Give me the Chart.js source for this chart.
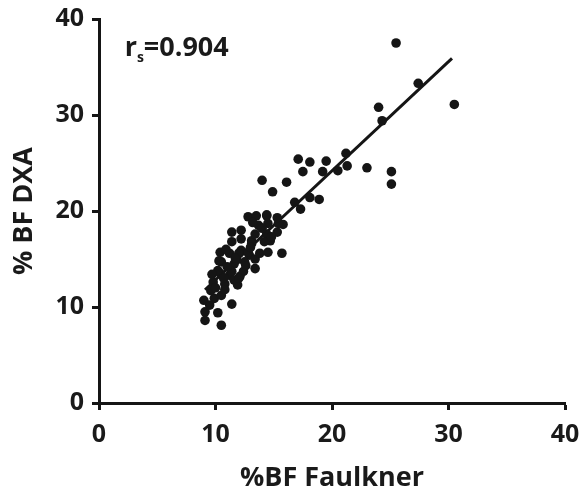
<!DOCTYPE html>
<html>
<head>
<meta charset="utf-8">
<script src="https://cdn.jsdelivr.net/npm/chart.js@4"></script>
<style>
html,body{margin:0;padding:0;background:#fff;}
#wrap{width:579px;height:495px;}
</style>
</head>
<body>
<div id="wrap"><canvas id="c" width="579" height="495"></canvas></div>
<script>
// x = %BF Faulkner, y = % BF DXA
const faulknerX = [
 25.5,27.4,30.5,24.0,24.3,21.2,21.3,23.0,25.1,25.1,
 17.1,18.1,19.5,17.5,19.2,20.5,14.0,16.1,14.9,16.8,
 17.3,18.1,18.9,15.8,15.7,14.7,14.4,
 10.5,9.1,9.1,10.2,11.4,9.0,9.9,9.6,10.5,9.8,10.8,11.9,11.2,10.4,12.1,
 11.4,12.2,12.2,11.4,13.1,10.4,11.2,12.2,12.9,10.5,11.6,12.5,13.4,10.2,11.4,12.4,13.4,
 12.8,13.5,14.4,13.7,14.5,15.4,13.4,14.4,15.3,13.1,14.2,14.8,12.8,13.8,14.5,12.0,
 10.0,10.8,11.0,10.3,11.8,12.6,9.5,10.7,11.6,13.0,12.0,15.3,14.0,13.2,11.7,10.9,9.7
];
const dxaY = [
 37.5,33.3,31.1,30.8,29.4,26.0,24.7,24.5,24.1,22.8,
 25.4,25.1,25.2,24.1,24.1,24.2,23.2,23.0,22.0,20.9,
 20.2,21.4,21.2,18.6,15.6,16.9,19.5,
 8.1,9.5,8.6,9.4,10.3,10.7,10.9,11.7,11.2,12.6,12.4,12.3,13.3,13.5,13.2,
 17.8,18.0,17.1,16.8,16.9,15.7,15.6,15.9,15.4,14.7,14.5,14.7,15.0,13.8,13.7,13.7,14.0,
 19.4,19.5,19.6,18.5,18.7,18.7,17.6,17.6,17.8,16.6,16.8,17.3,15.7,15.6,15.7,15.6,
 12.0,11.8,14.2,14.8,14.9,14.3,10.2,13.0,12.8,16.2,13.0,19.3,18.2,18.8,15.1,16.0,13.4
];
const fitX = [9.1, 30.3];
const fitY = [11.8, 35.9];
const xTicks = [0,10,20,30,40];
const yTicks = [0,10,20,30,40];
const xTitle = '%BF Faulkner';
const yTitle = '% BF DXA';
const rsLabel = ['r', 's', '=0.904'];

const FONT = '"Open Sans", "DejaVu Sans", sans-serif';
const points = faulknerX.map((x,i)=>({x:x, y:dxaY[i]}));
const fit = fitX.map((x,i)=>({x:x, y:fitY[i]}));

const rsPlugin = {
  id:'rs',
  afterDraw(chart){
    const ctx = chart.ctx;
    const xs = chart.scales.x, ys = chart.scales.y;
    ctx.save();
    ctx.fillStyle = '#1a1a1a';
    ctx.textBaseline = 'alphabetic';
    ctx.textAlign = 'left';
    let px = xs.getPixelForValue(2.2);
    const base = ys.getPixelForValue(36.1);
    ctx.font = 'bold 27px ' + FONT;
    ctx.fillText(rsLabel[0], px, base);
    px += ctx.measureText(rsLabel[0]).width;
    ctx.font = 'bold 14px ' + FONT;
    ctx.fillText(rsLabel[1], px, base + 6);
    px += ctx.measureText(rsLabel[1]).width;
    ctx.font = 'bold 27px ' + FONT;
    ctx.fillText(rsLabel[2], px, base);
    ctx.restore();
  }
};

new Chart(document.getElementById('c'), {
  type:'scatter',
  data:{
    datasets:[
      {label:'data', data:points, backgroundColor:'#151515', borderColor:'#151515', pointRadius:4.8, pointHoverRadius:4.8, borderWidth:0},
      {label:'fit', type:'line', data:fit, borderColor:'#151515', borderWidth:3, pointRadius:0, fill:false, showLine:true}
    ]
  },
  options:{
    responsive:false,
    animation:false,
    layout:{padding:{top:19,right:14,left:0,bottom:0}},
    plugins:{legend:{display:false}, tooltip:{enabled:false}},
    scales:{
      x:{
        type:'linear', min:0, max:40,
        afterBuildTicks(s){ s.ticks = xTicks.map(v=>({value:v})); },
        afterFit(s){ s.height = 92; s.paddingLeft = 0; s.paddingRight = 0; },
        border:{display:true, color:'#151515', width:3},
        grid:{drawOnChartArea:false, drawTicks:true, tickLength:7, tickWidth:3, color:'#151515'},
        ticks:{color:'#1a1a1a', font:{family:FONT, size:25, weight:'bold'}, padding:10, maxRotation:0},
        title:{display:true, text:xTitle, color:'#1a1a1a', font:{family:FONT, size:27, weight:'bold'}, padding:{top:4,bottom:0}}
      },
      y:{
        type:'linear', min:0, max:40,
        afterBuildTicks(s){ s.ticks = yTicks.map(v=>({value:v})); },
        afterFit(s){ s.width = 99; s.paddingTop = 0; s.paddingBottom = 0; },
        border:{display:true, color:'#151515', width:3},
        grid:{drawOnChartArea:false, drawTicks:true, tickLength:7, tickWidth:3, color:'#151515'},
        ticks:{color:'#1a1a1a', font:{family:FONT, size:25, weight:'bold'}, padding:8},
        title:{display:true, text:yTitle, color:'#1a1a1a', font:{family:FONT, size:27, weight:'bold'}, padding:{top:8,bottom:0}}
      }
    }
  },
  plugins:[rsPlugin]
});
</script>
</body>
</html>
